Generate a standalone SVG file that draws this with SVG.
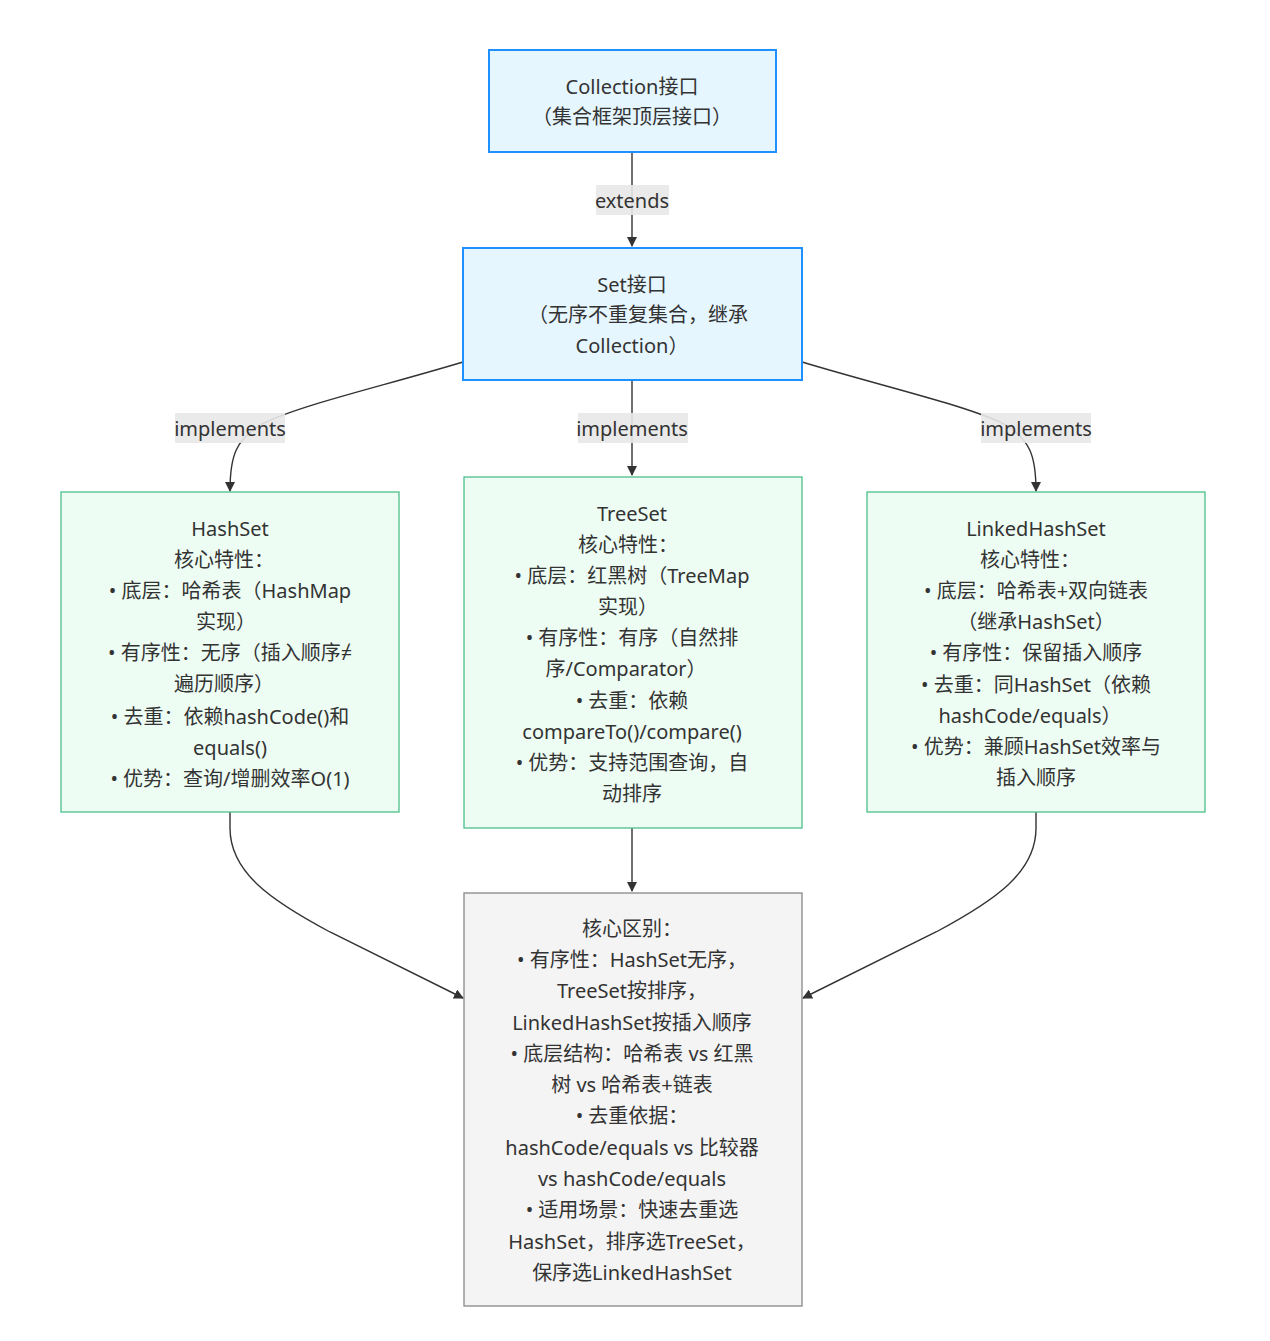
<svg xmlns="http://www.w3.org/2000/svg" width="1270" height="1341" viewBox="0 0 1270 1341">
<style>
text{font-family:"Noto Sans","Noto Sans CJK SC",sans-serif;font-size:20px;fill:#333;text-anchor:middle;dominant-baseline:central}
.blue{fill:#e6f6ff;stroke:#1e90ff;stroke-width:2}
.green{fill:#edfdf3;stroke:#4cc08a;stroke-width:1.3}
.gray{fill:#f4f4f4;stroke:#888;stroke-width:1.3}
.edge{fill:none;stroke:#333;stroke-width:1.4}
.lbl{fill:#e8e8e8;opacity:0.9}
</style>
<defs>
<marker id="arr" viewBox="0 0 10 10" refX="9" refY="5" markerWidth="10" markerHeight="10" markerUnits="userSpaceOnUse" orient="auto">
<path d="M0,0 L10,5 L0,10 z" fill="#333"/>
</marker>
</defs>
<rect width="1270" height="1341" fill="#fff"/>
<g id="connectors">
<path class="edge" d="M632,152 L632,246" marker-end="url(#arr)"/>
<path class="edge" d="M463,362 C380,387 300,405 262,424 C236,440 230,455 230,491" marker-end="url(#arr)"/>
<path class="edge" d="M632,380 L632,475" marker-end="url(#arr)"/>
<path class="edge" d="M802,362 C885,387 965,405 1004,424 C1030,440 1036,455 1036,491" marker-end="url(#arr)"/>
<path class="edge" d="M230,812 L230,828 C230,872 270,900 330,932 L463,998" marker-end="url(#arr)"/>
<path class="edge" d="M632,828 L632,891" marker-end="url(#arr)"/>
<path class="edge" d="M1036,812 L1036,828 C1036,872 996,900 936,932 L803,998" marker-end="url(#arr)"/>
<rect class="lbl" x="596" y="185" width="73" height="30"/>
<text x="632" y="200">extends</text>
<rect class="lbl" x="175" y="413" width="110" height="30"/>
<text x="230" y="428">implements</text>
<rect class="lbl" x="578" y="413" width="110" height="30"/>
<text x="632" y="428">implements</text>
<rect class="lbl" x="981" y="413" width="110" height="30"/>
<text x="1036" y="428">implements</text>
</g>
<g id="collection">
<rect class="blue" x="489" y="50" width="287" height="102"/>
<text x="632" y="86">Collection接口</text>
<text x="632" y="116">（集合框架顶层接口）</text>
</g>
<g id="set">
<rect class="blue" x="463" y="248" width="339" height="132"/>
<text x="632" y="284">Set接口</text>
<text x="638" y="314">（无序不重复集合，继承</text>
<text x="632" y="345">Collection）</text>
</g>
<g id="hashset">
<rect class="green" x="61" y="492" width="338" height="320"/>
<text x="230" y="528">HashSet</text>
<text x="224" y="559">核心特性：</text>
<text x="230" y="590">• 底层：哈希表（HashMap</text>
<text x="226" y="621">实现）</text>
<text x="230" y="652">• 有序性：无序（插入顺序≠</text>
<text x="224" y="683">遍历顺序）</text>
<text x="230" y="716">• 去重：依赖hashCode()和</text>
<text x="230" y="747">equals()</text>
<text x="230" y="778">• 优势：查询/增删效率O(1)</text>
</g>
<g id="treeset">
<rect class="green" x="464" y="477" width="338" height="351"/>
<text x="632" y="513">TreeSet</text>
<text x="628" y="544">核心特性：</text>
<text x="632" y="575">• 底层：红黑树（TreeMap</text>
<text x="628" y="606">实现）</text>
<text x="632" y="637">• 有序性：有序（自然排</text>
<text x="626" y="668">序/Comparator）</text>
<text x="632" y="700">• 去重：依赖</text>
<text x="632" y="731">compareTo()/compare()</text>
<text x="632" y="762">• 优势：支持范围查询，自</text>
<text x="632" y="793">动排序</text>
</g>
<g id="linkedhashset">
<rect class="green" x="867" y="492" width="338" height="320"/>
<text x="1036" y="528">LinkedHashSet</text>
<text x="1030" y="559">核心特性：</text>
<text x="1036" y="590">• 底层：哈希表+双向链表</text>
<text x="1036" y="621">（继承HashSet）</text>
<text x="1036" y="652">• 有序性：保留插入顺序</text>
<text x="1036" y="684">• 去重：同HashSet（依赖</text>
<text x="1030" y="715">hashCode/equals）</text>
<text x="1036" y="746">• 优势：兼顾HashSet效率与</text>
<text x="1036" y="777">插入顺序</text>
</g>
<g id="summary">
<rect class="gray" x="464" y="893" width="338" height="413"/>
<text x="632" y="928">核心区别：</text>
<text x="632" y="959">• 有序性：HashSet无序，</text>
<text x="632" y="990">TreeSet按排序，</text>
<text x="632" y="1022">LinkedHashSet按插入顺序</text>
<text x="632" y="1053">• 底层结构：哈希表 vs 红黑</text>
<text x="632" y="1084">树 vs 哈希表+链表</text>
<text x="632" y="1115">• 去重依据：</text>
<text x="632" y="1147">hashCode/equals vs 比较器</text>
<text x="632" y="1178">vs hashCode/equals</text>
<text x="632" y="1209">• 适用场景：快速去重选</text>
<text x="632" y="1241">HashSet，排序选TreeSet，</text>
<text x="632" y="1272">保序选LinkedHashSet</text>
</g>
</svg>
